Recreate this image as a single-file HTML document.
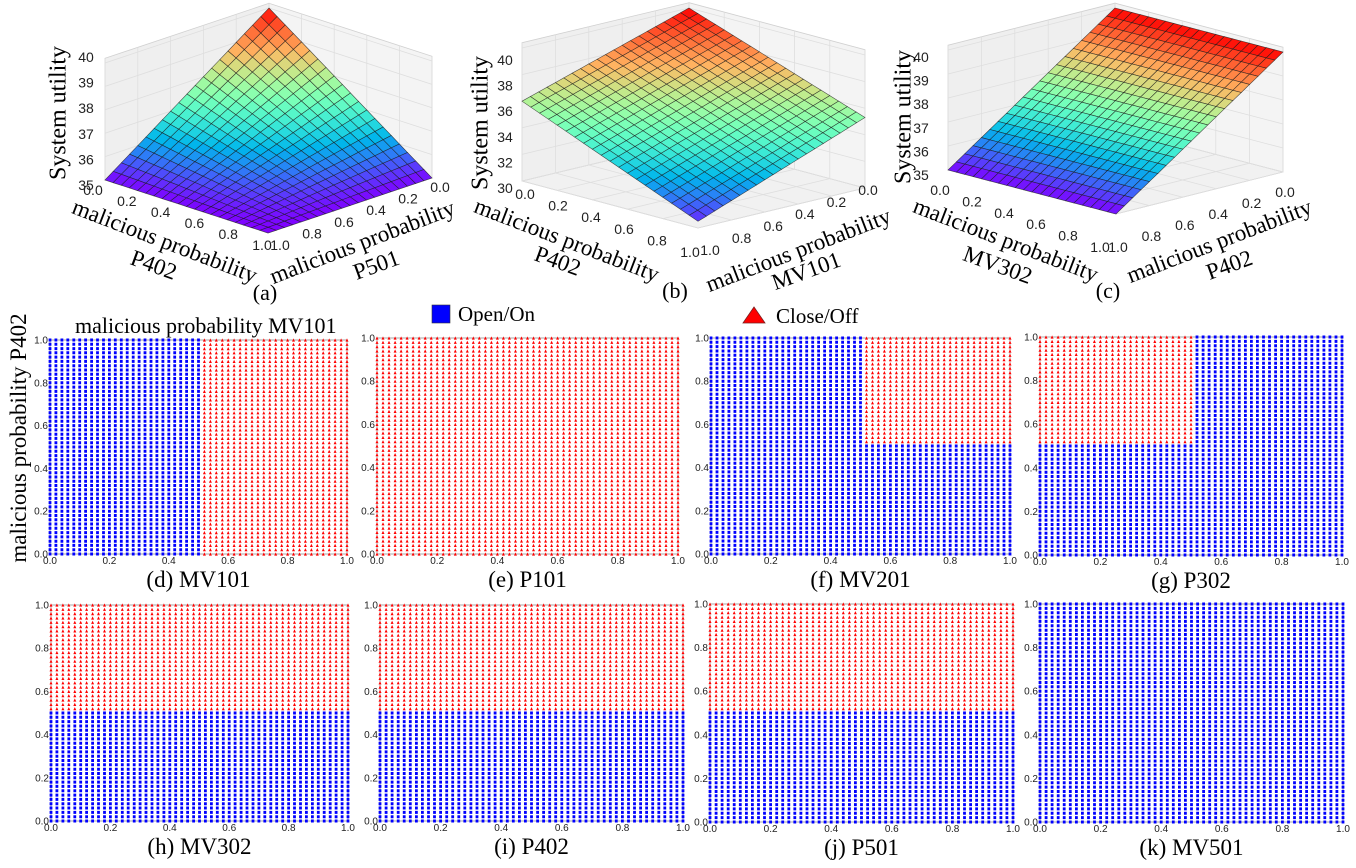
<!DOCTYPE html>
<html><head><meta charset="utf-8"><style>
html,body{margin:0;padding:0;background:#fff;}
svg{display:block;}
.serif{font-family:"Liberation Serif",serif;fill:#000;}
.sans{font-family:"Liberation Sans",sans-serif;fill:#222;}
</style></head><body>
<svg id="fig" xmlns="http://www.w3.org/2000/svg" width="1356" height="868" viewBox="0 0 1356 868">
<rect width="1356" height="868" fill="#fff"/>
<g id="surfaces"></g>
<g id="grids"></g>
<g>
  <rect x="432" y="305" width="18" height="18" fill="#0000ff" stroke="#333" stroke-width="0.6"/>
  <text x="458" y="321" class="serif" font-size="21">Open/On</text>
  <polygon points="743,323 765,323 754,307" fill="#ff0000" stroke="#7a2020" stroke-width="0.8"/>
  <text x="776" y="323" class="serif" font-size="21">Close/Off</text>
</g>
<text x="75" y="333" class="serif" font-size="22">malicious probability MV101</text>
<text transform="translate(26,438) rotate(-90)" text-anchor="middle" class="serif" font-size="23">malicious probability P402</text>
</svg>
<script>
// ---------- 3D surface data ----------
const surfNames = ['a','b','c'];
const surfZMin = [35, 30, 35];
const surfZMax = [40, 40, 40];
const surfZTicks = [[35,36,37,38,39,40],[30,32,34,36,38,40],[35,36,37,38,39,40]];
// corner values: [u0v0, u1v0, u0v1, u1v1]
const surfCornersA = [40, 35, 35, 35];
const surfCornersB = [40, 35.3, 36, 30.5];
const surfCornersC = [40, 40, 35, 35];
const xyTicks = ['0.0','0.2','0.4','0.6','0.8','1.0'];
const xyTickVals = [0,0.2,0.4,0.6,0.8,1.0];
const surfCorners = [surfCornersA, surfCornersB, surfCornersC];

// layout (not data)
const surfLayout = [
 {o:[269,125],u:[163,53],v:[-164,55],zs:23.4, lt0:[93,195],lt1:[262,250], rt0:[440,192],rt1:[280,250], zx:86, zy0:185, zy1:57,
  zlab:[60,113], ll:[164,243,21,'malicious probability'], ll2:[153,267,20,'P402'], rl:[363,244,-21,'malicious probability'], rl2:[377,267,-20,'P501'], cap:[265,300,'(a)']},
 {o:[689,141],u:[176,47],v:[-167,40],zs:13.3, lt0:[525,199],lt1:[690,257], rt0:[868,195],rt1:[710,255], zx:505, zy0:188, zy1:60,
  zlab:[482,123], ll:[566,242,21,'malicious probability'], ll2:[557,263,20,'P402'], rl:[799,252,-21,'malicious probability'], rl2:[807,273,-20,'MV101'], cap:[675,298,'(b)']},
 {o:[1115,128],u:[168,44],v:[-167,42],zs:24, lt0:[940,195],lt1:[1100,252], rt0:[1285,197],rt1:[1118,252], zx:921, zy0:175, zy1:57,
  zlab:[905,117], ll:[1005,242,21,'malicious probability'], ll2:[997,267,20,'MV302'], rl:[1220,243,-21,'malicious probability'], rl2:[1230,267,-20,'P402'], cap:[1108,298,'(c)']}
];

// ---------- 2D grid data ----------
const panelLabels = ['(d) MV101','(e) P101','(f) MV201','(g) P302','(h) MV302','(i) P402','(j) P501','(k) MV501'];
// closed (red) region bounds per panel: x in [xmin,xmax], y in [ymin,ymax]; null = none
const closedXMin = [0.51, 0, 0.51, 0,    0,    0,    0,    null];
const closedXMax = [1,    1, 1,    0.5,  1,    1,    1,    null];
const closedYMin = [0,    0, 0.51, 0.51, 0.51, 0.51, 0.51, null];
const closedYMax = [1,    1, 1,    1,    1,    1,    1,    null];
const gridCount = 51; // samples per axis (step 0.02)

const panelLayout = [
 [50,340,347,554],[377,338,678,554],[711,338,1010,554],[1040,337,1342,555],
 [51,605,348,821],[380,605,683,821],[710,604,1013,822],[1040,604,1343,822]
];

const NS='http://www.w3.org/2000/svg';
function mk(tag, attrs, parent){const e=document.createElementNS(NS,tag);for(const k in attrs)e.setAttribute(k,attrs[k]);parent.appendChild(e);return e;}
function rainbow(x){x=Math.max(0,Math.min(1,x));
 const r=Math.min(1,Math.abs(2*x-0.5)), g=Math.sin(Math.PI*x), b=Math.cos(Math.PI*x/2);
 return 'rgb('+Math.round(r*255)+','+Math.round(g*255)+','+Math.round(Math.max(0,b)*255)+')';}

const surfG=document.getElementById('surfaces');
surfNames.forEach((nm,k)=>{
 const L=surfLayout[k], zmin=surfZMin[k], zmax=surfZMax[k], c=surfCorners[k];
 const g=mk('g',{},surfG);
 
 
 const P=(u,v,z)=>[L.o[0]+u*L.u[0]+v*L.v[0], L.o[1]+u*L.u[1]+v*L.v[1]-(z-zmin)*L.zs];
 const pts=a=>a.map(p=>p[0].toFixed(1)+','+p[1].toFixed(1)).join(' ');
 const ztop=zmax+(zmax-zmin)*0.04;
 const floor=mk('polygon',{points:pts([P(0,0,zmin),P(1,0,zmin),P(1,1,zmin),P(0,1,zmin)]),fill:'#f1f1f1',stroke:'#c8c8c8','stroke-width':0.8},g);
  
 const w1=mk('polygon',{points:pts([P(0,0,zmin),P(0,1,zmin),P(0,1,ztop),P(0,0,ztop)]),fill:'#efefef',stroke:'#d0d0d0','stroke-width':0.8},g);
  
 const w2=mk('polygon',{points:pts([P(0,0,zmin),P(1,0,zmin),P(1,0,ztop),P(0,0,ztop)]),fill:'#f4f4f4',stroke:'#d0d0d0','stroke-width':0.8},g);
  
 xyTickVals.forEach(t=>{
  let a=P(t,0,zmin),b=P(t,1,zmin); mk('line',{x1:a[0],y1:a[1],x2:b[0],y2:b[1],stroke:'#dedede','stroke-width':0.8},g);
  a=P(0,t,zmin);b=P(1,t,zmin); mk('line',{x1:a[0],y1:a[1],x2:b[0],y2:b[1],stroke:'#dedede','stroke-width':0.8},g);
  a=P(0,t,zmin);b=P(0,t,ztop); mk('line',{x1:a[0],y1:a[1],x2:b[0],y2:b[1],stroke:'#dedede','stroke-width':0.8},g);
  a=P(t,0,zmin);b=P(t,0,ztop); mk('line',{x1:a[0],y1:a[1],x2:b[0],y2:b[1],stroke:'#dedede','stroke-width':0.8},g);
 });
 surfZTicks[k].forEach(z=>{
  let a=P(0,0,z),b=P(0,1,z); mk('line',{x1:a[0],y1:a[1],x2:b[0],y2:b[1],stroke:'#dedede','stroke-width':0.8},g);
  a=P(0,0,z);b=P(1,0,z); mk('line',{x1:a[0],y1:a[1],x2:b[0],y2:b[1],stroke:'#dedede','stroke-width':0.8},g);
 });
 const N=20;
 const val=(u,v)=>c[0]*(1-u)*(1-v)+c[1]*u*(1-v)+c[2]*(1-u)*v+c[3]*u*v;
 const cells=[];
 for(let i=0;i<N;i++)for(let j=0;j<N;j++)cells.push([i,j]);
 cells.sort((a,b)=>(a[0]+a[1])-(b[0]+b[1]));
 const sg=mk('g',{},g);
  
 cells.forEach(([i,j])=>{
  const u0=i/N,u1=(i+1)/N,v0=j/N,v1=(j+1)/N;
  const zc=(val(u0,v0)+val(u1,v0)+val(u0,v1)+val(u1,v1))/4;
  const col=rainbow((zc-zmin)/(zmax-zmin));
  const p=mk('polygon',{points:pts([P(u0,v0,val(u0,v0)),P(u1,v0,val(u1,v0)),P(u1,v1,val(u1,v1)),P(u0,v1,val(u0,v1))]),fill:col,stroke:'#1a1a1a','stroke-width':0.6,'stroke-opacity':0.75},sg);
   
 });
 xyTicks.forEach((lab,t)=>{
  const f=xyTickVals[t];
  const x1=L.lt0[0]+(L.lt1[0]-L.lt0[0])*f, y1=L.lt0[1]+(L.lt1[1]-L.lt0[1])*f;
  const e=mk('text',{x:x1,y:y1,'text-anchor':'middle','font-size':14,class:'sans'},g); e.textContent=lab;
   
  const x2=L.rt0[0]+(L.rt1[0]-L.rt0[0])*f, y2=L.rt0[1]+(L.rt1[1]-L.rt0[1])*f;
  const e2=mk('text',{x:x2,y:y2,'text-anchor':'middle','font-size':14,class:'sans'},g); e2.textContent=lab;
   
 });
 surfZTicks[k].forEach(z=>{
  const f=(z-zmin)/(zmax-zmin);
  const y=L.zy0+(L.zy1-L.zy0)*f;
  const e=mk('text',{x:L.zx,y:y+5,'text-anchor':'middle','font-size':14,class:'sans'},g); e.textContent=String(z);
   
 });
 const zl=mk('text',{transform:'translate('+L.zlab[0]+','+L.zlab[1]+') rotate(-90)','text-anchor':'middle','dominant-baseline':'middle','font-size':24,class:'serif'},g);
 zl.textContent='System utility';  
 [[L.ll,'left-axis-title'],[L.ll2,'left-axis-title-var'],[L.rl,'right-axis-title'],[L.rl2,'right-axis-title-var']].forEach(([d,n])=>{
  const e=mk('text',{transform:'translate('+d[0]+','+d[1]+') rotate('+d[2]+')','text-anchor':'middle','dominant-baseline':'middle','font-size':23,class:'serif'},g);
  e.textContent=d[3];  
 });
 const cap=mk('text',{x:L.cap[0],y:L.cap[1],'text-anchor':'middle','font-size':22,class:'serif'},g);
 cap.textContent=L.cap[2];  
});

const gridG=document.getElementById('grids');
panelLabels.forEach((lab,k)=>{
 const [x0,y0,x1,y1]=panelLayout[k];
 const g=mk('g',{},gridG);
 
 
 const fr=mk('rect',{x:x0,y:y0,width:x1-x0,height:y1-y0,fill:'#fff',stroke:'#aaa','stroke-width':1},g);
  
 const sx=v=>x0+v*(x1-x0), sy=v=>y1-v*(y1-y0);
 let blue='',red='';
 for(let i=0;i<gridCount;i++)for(let j=0;j<gridCount;j++){
  const xv=i/(gridCount-1), yv=j/(gridCount-1);
  const closed=closedXMin[k]!==null && xv>=closedXMin[k]&&xv<=closedXMax[k]&&yv>=closedYMin[k]&&yv<=closedYMax[k];
  const px=sx(xv), py=sy(yv);
  if(closed) red+='M'+(px-1.5).toFixed(1)+' '+(py+1.6).toFixed(1)+'h3l-1.5-3.2z';
  else blue+='M'+(px-1.4).toFixed(1)+' '+(py-1.5).toFixed(1)+'h2.8v3h-2.8z';
 }
 const bp=mk('path',{d:blue,fill:'#0000ff'},g);
  
 const rp=mk('path',{d:red,fill:'#ff0000'},g);
  
 xyTicks.forEach((t,ti)=>{
  const f=xyTickVals[ti];
  const a=mk('text',{x:sx(f),y:y1+10,'text-anchor':'middle','font-size':10,class:'sans'},g); a.textContent=t;
   
  const b=mk('text',{x:x0-2,y:sy(f)+3.5,'text-anchor':'end','font-size':10,class:'sans'},g); b.textContent=t;
   
 });
 const cap=mk('text',{x:(x0+x1)/2,y:y1+33,'text-anchor':'middle','font-size':23,class:'serif'},g);
 cap.textContent=lab;  
});
</script>
</body></html>
